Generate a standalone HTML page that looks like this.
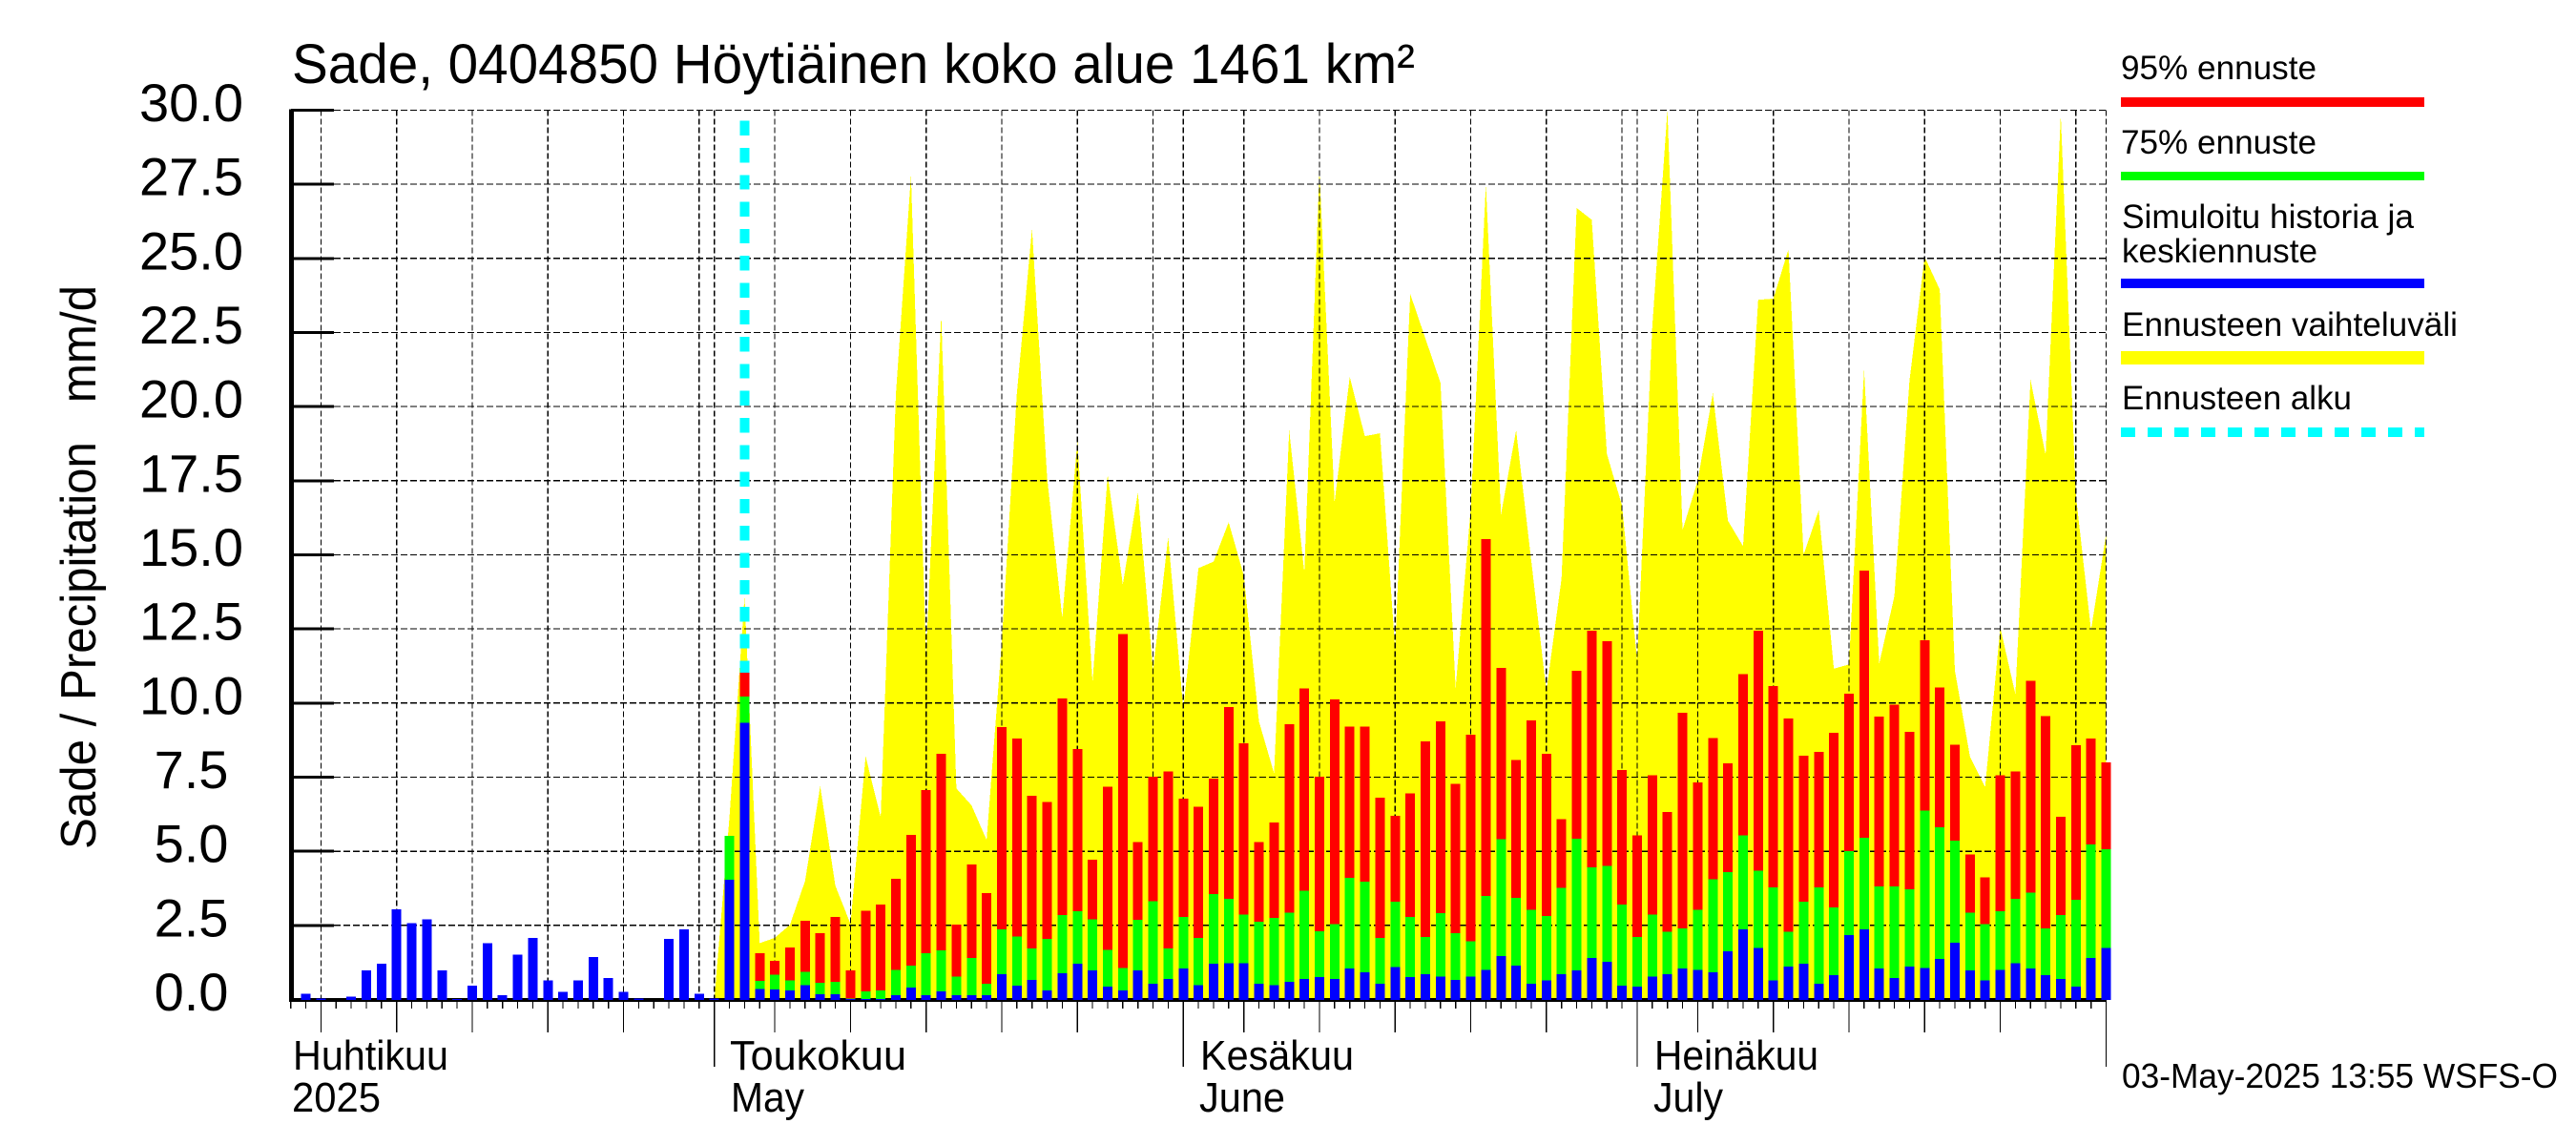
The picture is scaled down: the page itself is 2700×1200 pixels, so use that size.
<!DOCTYPE html>
<html lang="fi">
<head>
<meta charset="utf-8">
<title>Sade, 0404850 Höytiäinen koko alue 1461 km²</title>
<style>
html,body{margin:0;padding:0;background:#fff;}
svg{display:block;}
text{font-family:"Liberation Sans",sans-serif;fill:#000;}
</style>
</head>
<body>
<svg id="chart" xmlns="http://www.w3.org/2000/svg" width="2700" height="1200" viewBox="0 0 2700 1200">
<rect x="0" y="0" width="2700" height="1200" fill="#fff"/>
<g id="plot"></g>
<text x="306" y="87" font-size="58" textLength="1177" lengthAdjust="spacingAndGlyphs">Sade, 0404850 Höytiäinen koko alue 1461 km²</text>
<text transform="translate(100,890) rotate(-90)" x="0" y="0" font-size="52" textLength="591" lengthAdjust="spacingAndGlyphs" xml:space="preserve">Sade / Precipitation   mm/d</text>
<text x="307" y="1121" font-size="44" textLength="163" lengthAdjust="spacingAndGlyphs">Huhtikuu</text>
<text x="306" y="1165" font-size="44" textLength="93" lengthAdjust="spacingAndGlyphs">2025</text>
<text x="765" y="1121" font-size="44" textLength="185" lengthAdjust="spacingAndGlyphs">Toukokuu</text>
<text x="766" y="1165" font-size="44" textLength="77" lengthAdjust="spacingAndGlyphs">May</text>
<text x="1258" y="1121" font-size="44" textLength="161" lengthAdjust="spacingAndGlyphs">Kesäkuu</text>
<text x="1257" y="1165" font-size="44" textLength="90" lengthAdjust="spacingAndGlyphs">June</text>
<text x="1734" y="1121" font-size="44" textLength="172" lengthAdjust="spacingAndGlyphs">Heinäkuu</text>
<text x="1733" y="1165" font-size="44" textLength="73" lengthAdjust="spacingAndGlyphs">July</text>
<text x="2224" y="1140" font-size="36" textLength="457" lengthAdjust="spacingAndGlyphs">03-May-2025 13:55 WSFS-O</text>
<g>
<text x="2223" y="83" font-size="35" textLength="205" lengthAdjust="spacingAndGlyphs">95% ennuste</text>
<rect x="2223" y="102" width="318" height="10" fill="#f00"/>
<text x="2223" y="161" font-size="35" textLength="205" lengthAdjust="spacingAndGlyphs">75% ennuste</text>
<rect x="2223" y="180" width="318" height="9" fill="#0f0"/>
<text x="2224" y="239" font-size="35" textLength="306" lengthAdjust="spacingAndGlyphs">Simuloitu historia ja</text>
<text x="2224" y="275" font-size="35" textLength="205" lengthAdjust="spacingAndGlyphs">keskiennuste</text>
<rect x="2223" y="292" width="318" height="10" fill="#00f"/>
<text x="2224" y="352" font-size="35" textLength="352" lengthAdjust="spacingAndGlyphs">Ennusteen vaihteluväli</text>
<rect x="2223" y="368" width="318" height="14" fill="#ff0"/>
<text x="2224" y="429" font-size="35" textLength="241" lengthAdjust="spacingAndGlyphs">Ennusteen alku</text>
<line x1="2223" y1="453" x2="2541" y2="453" stroke="#0ff" stroke-width="10" stroke-dasharray="15 13" shape-rendering="crispEdges"/>
</g>
</svg>
<script>
const startDate = "2025-04-03";
const yTickValues = [0, 2.5, 5, 7.5, 10, 12.5, 15, 17.5, 20, 22.5, 25, 27.5, 30];
const yTickLabels = ["0.0", "2.5", "5.0", "7.5", "10.0", "12.5", "15.0", "17.5", "20.0", "22.5", "25.0", "27.5", "30.0"];
const gridDates = ["04-05","04-10","04-15","04-20","04-25","04-30","05-01","05-05","05-10","05-15","05-20","05-25","05-30","06-01","06-05","06-10","06-15","06-20","06-25","06-30","07-01","07-05","07-10","07-15","07-20","07-25","07-30","08-01"];
const mediumTickDates = ["04-05","04-10","04-15","04-20","04-25","05-05","05-10","05-15","05-20","05-25","06-05","06-10","06-15","06-20","06-25","07-05","07-10","07-15","07-20","07-25"];
const monthTickDates = ["05-01","06-01","07-01","08-01"];
const forecastStartDate = "05-03";
const dayCount = 121;

const blueValues = [0,.2,.04,0,.1,.98,1.2,3.04,2.58,2.7,.98,.02,.47,1.9,.14,1.52,2.07,.65,.25,.65,1.44,.72,.25,.03,0,2.05,2.36,.2,.03,
4.04,9.34,.36,.33,.3,.49,.17,.17,.02,.02,.02,.14,.4,.14,.27,.14,.14,.14,
.86,.47,.66,.31,.88,1.21,.98,.43,.31,.98,.53,.7,1.05,.49,1.21,1.23,1.23,.53,.49,.6,.7,.76,.7,1.05,.92,.53,1.1,
.76,.86,.78,.66,.78,1,1.46,1.15,.53,.64,.86,.98,1.4,1.27,.47,.43,.78,.86,1.05,1,.92,1.62,2.36,1.74,.64,1.11,1.21,.53,.82,2.18,2.36,1.05,.72,1.11,1.07,1.37,1.91,
.98,.64,1,1.23,1.05,.82,.7,.43,1.4,1.74];

const greenStartIndex = 29;
const greenValues = [5.52,10.22,.62,.84,.65,.94,.56,.59,.04,.27,.3,1,1.14,1.56,1.65,.78,1.4,.53,
2.36,2.13,1.72,2.05,2.85,2.98,2.71,1.68,1.07,2.69,3.32,1.72,2.79,2.07,3.55,3.39,2.87,2.63,2.75,2.93,3.67,2.3,2.54,4.1,3.98,2.07,3.3,
2.79,2.11,2.91,2.24,1.97,3.49,5.4,3.43,3.02,2.81,3.76,5.42,4.45,4.51,3.2,2.11,2.87,2.28,2.4,3.02,4.06,4.29,5.54,4.35,3.78,2.28,3.3,3.78,3.1,5.01,5.46,3.82,3.82,3.71,6.38,5.81,5.36,
2.93,2.54,2.98,3.39,3.61,2.4,2.85,3.37,5.23,5.07];

const redStartIndex = 29;
const redValues = [5.52,11.02,1.56,1.3,1.75,2.65,2.23,2.78,.98,3,3.2,4.07,5.55,7.06,8.28,2.52,4.56,3.59,
9.19,8.8,6.87,6.67,10.16,8.45,4.72,7.18,12.33,5.31,7.51,7.7,6.77,6.5,7.45,9.87,8.64,5.31,5.97,9.28,10.5,7.51,10.12,9.21,9.21,6.81,6.2,
6.96,8.7,9.38,7.28,8.93,15.53,11.18,8.08,9.42,8.29,6.09,11.08,12.44,12.09,7.74,5.54,7.57,6.32,9.67,7.33,8.82,7.96,10.98,12.44,10.57,9.48,8.23,8.35,8.99,10.32,14.47,9.54,9.95,9.03,12.11,10.53,8.6,
4.9,4.12,7.57,7.7,10.75,9.56,6.16,8.58,8.8,8];

const yellowStartIndex = 28;
const yellowValues = [0,6.14,13.6,1.9,2.08,2.52,4,7.2,3.84,2.55,8.2,6.15,20.4,27.8,11.6,23.1,7.12,6.55,5.38,
12.05,20.46,26,17.6,12.87,18.85,10.7,17.7,14,17.1,11.1,15.6,9.8,14.55,14.77,16.1,14.3,9.38,7.63,19.2,14.4,27.95,16.77,21,19,19.1,11.84,
23.8,22.3,20.8,10.5,16.56,27.5,16.36,19.2,14.8,10.4,14.2,26.7,26.3,18.4,16.66,11.43,22.7,30,15.84,17.5,20.45,16.15,15.29,23.6,23.64,25.3,15,16.5,11.16,11.3,21.25,11.33,13.6,20.87,25.05,23.95,11.1,
8.19,7.16,12.55,10.3,20.9,18.37,29.85,17,12.46,15.7];

const SVG_NS = "http://www.w3.org/2000/svg";
const plot = document.getElementById("plot");

function xScale(dayIndex) { return 304.7 + 15.857 * dayIndex; }
function yScale(value) { return 1047.5 - 31.07 * value; }
function dayIndexOf(monthDay) {
  const a = Date.UTC(2025, +startDate.slice(5, 7) - 1, +startDate.slice(8, 10));
  const b = Date.UTC(2025, +monthDay.slice(0, 2) - 1, +monthDay.slice(3, 5));
  return Math.round((b - a) / 86400000);
}
function make(tag, attrs, parent) {
  const el = document.createElementNS(SVG_NS, tag);
  for (const k in attrs) el.setAttribute(k, attrs[k]);
  parent.appendChild(el);
  return el;
}
const crisp = "crispEdges";

/* forecast range polygon */
const lastYellow = yellowStartIndex + yellowValues.length - 1;
let rangePts = xScale(yellowStartIndex) + "," + yScale(0);
yellowValues.forEach(function (v, k) {
  rangePts += " " + xScale(yellowStartIndex + k) + "," + yScale(v);
});
rangePts += " " + xScale(lastYellow) + "," + yScale(0);
const rangeArea = make("polygon", { points: rangePts, fill: "#ff0", "shape-rendering": crisp }, plot);



/* horizontal grid + thick y ticks + labels */
yTickValues.forEach(function (v, k) {
  if (v > 0) {
    const g = make("line", { x1: 350, x2: xScale(dayCount - 1), y1: yScale(v), y2: yScale(v), stroke: "#000", "stroke-width": 1.2, "stroke-dasharray": "7 3", "shape-rendering": crisp }, plot);
    
    
    const t = make("rect", { x: 305, y: yScale(v) - 1.5, width: 45, height: 3, fill: "#000", "shape-rendering": crisp }, plot);
    
    
  }
  const lab = make("text", { x: 200.5, y: yScale(v) + 11.5, "font-size": 56, "text-anchor": "middle" }, plot);
  
  
  lab.textContent = yTickLabels[k];
});

/* vertical grid */
gridDates.forEach(function (d) {
  const x = xScale(dayIndexOf(d));
  const g = make("line", { x1: x, x2: x, y1: yScale(30), y2: yScale(0), stroke: "#000", "stroke-width": 1.2, "stroke-dasharray": "6 3", "shape-rendering": crisp }, plot);
  
  
});

/* axes */
const yAxisLine = make("rect", { x: 303, y: yScale(30) - 1, width: 5, height: yScale(0) - yScale(30) + 3, fill: "#000", "shape-rendering": crisp }, plot);


const xAxisLine = make("rect", { x: 303, y: 1046, width: xScale(dayCount - 1) - 302.5, height: 4, fill: "#000", "shape-rendering": crisp }, plot);



/* x ticks */
for (let i = 0; i < dayCount; i++) {
  const x = xScale(i);
  const t = make("line", { x1: x, x2: x, y1: 1049, y2: 1057, stroke: "#000", "stroke-width": 1.2, "shape-rendering": crisp }, plot);
  
  
}
mediumTickDates.forEach(function (d) {
  const x = xScale(dayIndexOf(d));
  const t = make("line", { x1: x, x2: x, y1: 1049, y2: 1082, stroke: "#000", "stroke-width": 1.2, "shape-rendering": crisp }, plot);
  
  
});
monthTickDates.forEach(function (d) {
  const x = xScale(dayIndexOf(d));
  const t = make("line", { x1: x, x2: x, y1: 1049, y2: 1118, stroke: "#000", "stroke-width": 1.2, "shape-rendering": crisp }, plot);
  
  
});

/* forecast start marker */
const startX = xScale(dayIndexOf(forecastStartDate));
const startLine = make("line", { x1: startX, x2: startX, y1: 126.7, y2: yScale(0), stroke: "#0ff", "stroke-width": 10, "stroke-dasharray": "15.3 13", "shape-rendering": crisp }, plot);



/* bars */
function drawBar(i, value, color) {
  const top = yScale(value);
  const el = make("rect", { x: xScale(i) - 5, y: top, width: 10, height: yScale(0) + 0.3 - top, fill: color, "shape-rendering": crisp }, plot);
  return el;
}
redValues.forEach(function (v, k) {
  const b = drawBar(redStartIndex + k, v, "#f00");
  
  
});
greenValues.forEach(function (v, k) {
  const b = drawBar(greenStartIndex + k, v, "#0f0");
  
  
});
blueValues.forEach(function (v, i) {
  if (v <= 0) return;
  const b = drawBar(i, v, "#00f");
  
  
});
</script>
</body>
</html>
